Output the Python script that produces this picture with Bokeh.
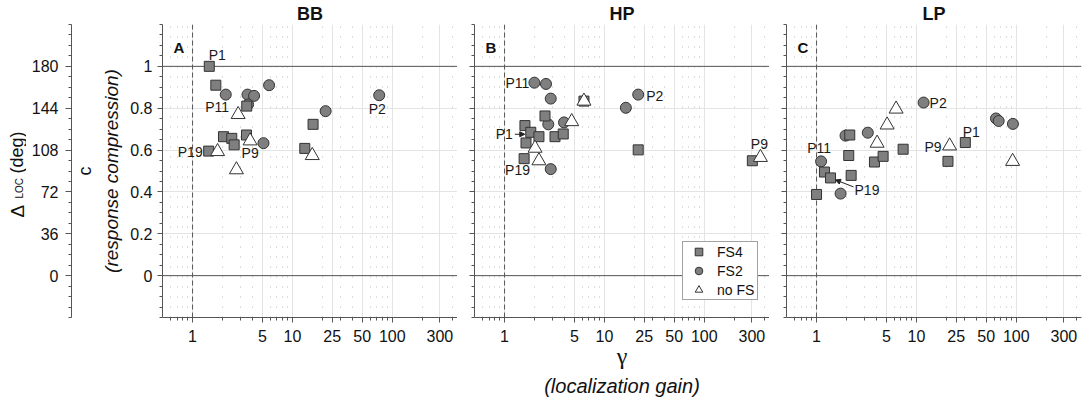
import math
from bokeh.plotting import figure
from bokeh.layouts import row
from bokeh.models import (ColumnDataSource, Range1d, LinearAxis, FixedTicker,
                          CustomJSTickFormatter, Span, Label, Legend, LegendItem,
                          Arrow, NormalHead, LogAxis)
from bokeh.core.properties import value
from bokeh.embed import file_html
from bokeh.resources import INLINE

# ---------------- data (gamma = localization gain, c = response compression) ----------------
panel_names = ["BB", "HP", "LP"]
panel_letters = ["A", "B", "C"]
legend_labels = ["FS4", "FS2", "no FS"]

bb_fs4_g = [1.47, 1.71, 3.49, 2.04, 2.47, 2.61, 3.47, 1.45, 13.3, 16.1]
bb_fs4_c = [1.00, 0.91, 0.81, 0.664, 0.656, 0.625, 0.672, 0.595, 0.608, 0.723]
bb_fs2_g = [2.15, 3.55, 4.13, 3.6, 5.84, 21.5, 5.13, 74.0]
bb_fs2_c = [0.865, 0.865, 0.859, 0.818, 0.91, 0.786, 0.633, 0.862]
bb_nofs_g = [2.86, 1.78, 3.77, 2.75, 15.8]
bb_nofs_c = [0.77, 0.593, 0.644, 0.506, 0.574]

hp_fs4_g = [2.54, 1.6, 1.83, 2.21, 3.2, 3.87, 1.64, 1.57, 21.8, 303.0, 6.24]
hp_fs4_c = [0.763, 0.717, 0.685, 0.664, 0.664, 0.677, 0.634, 0.559, 0.601, 0.549, 0.834]
hp_fs2_g = [1.99, 2.6, 2.9, 2.74, 3.94, 16.4, 21.8, 2.9]
hp_fs2_c = [0.922, 0.916, 0.846, 0.723, 0.732, 0.802, 0.865, 0.509]
hp_nofs_g = [6.24, 4.7, 2.02, 2.21, 365.0]
hp_nofs_c = [0.834, 0.736, 0.609, 0.549, 0.565]

lp_fs4_g = [2.15, 2.1, 3.8, 4.64, 7.36, 30.9, 20.7, 1.2, 1.38, 2.22, 1.0]
lp_fs4_c = [0.672, 0.574, 0.543, 0.57, 0.604, 0.636, 0.546, 0.495, 0.467, 0.479, 0.388]
lp_fs2_g = [11.8, 62.6, 66.6, 92.6, 1.95, 3.26, 1.11, 1.74]
lp_fs2_c = [0.827, 0.751, 0.739, 0.725, 0.669, 0.683, 0.546, 0.392]
lp_nofs_g = [6.26, 5.09, 4.04, 21.5, 91.9]
lp_nofs_c = [0.796, 0.72, 0.633, 0.62, 0.546]

# participant labels: text, series, index of the point they name
bb_lab_text = ["P1", "P11", "P19", "P9", "P2"]
bb_lab_series = ["fs4", "nofs", "fs4", "nofs", "fs2"]
bb_lab_index = [0, 0, 7, 2, 7]
hp_lab_text = ["P11", "P2", "P1", "P19", "P9"]
hp_lab_series = ["fs2", "fs2", "fs4", "nofs", "nofs"]
hp_lab_index = [0, 6, 2, 3, 4]
lp_lab_text = ["P2", "P1", "P9", "P11", "P19"]
lp_lab_series = ["fs2", "fs4", "nofs", "fs2", "fs4"]
lp_lab_index = [0, 5, 3, 6, 8]

# tick values
x_major_ticks = [1, 5, 10, 25, 50, 100, 300]
x_minor_ticks = [0.6, 0.7, 0.8, 0.9, 2, 3, 4, 6, 7, 8, 9, 20, 30, 40, 60, 70, 80, 90, 200, 400]
c_major_ticks = [0, 0.2, 0.4, 0.6, 0.8, 1.0]
c_minor_ticks = [round(-0.2 + 0.05 * i, 2) for i in range(29)]
deg_major_ticks = [0, 36, 72, 108, 144, 180]
deg_minor_ticks = [-36 + 9 * i for i in range(29)]

# ---------------- layout / style ----------------
X_RANGE = (0.5, 450)
Y_RANGE = (-0.2, 1.2)
DEG_RANGE = (-36, 216)
FRAME_W, FRAME_H = 295, 294
TOP, BOTTOM = 23, 83
H = TOP + FRAME_H + BOTTOM
LABEL_W = 26
PPD = FRAME_W / math.log10(X_RANGE[1] / X_RANGE[0])
PPU = FRAME_H / (Y_RANGE[1] - Y_RANGE[0])
SANS = "Liberation Sans"
DARK = "#555555"
TXT = "#111111"
MARK_FILL = "#7f7f7f"
MARK_LINE = "#333333"

# label offsets in pixels (dx right, dy down) and alignment, per panel
bb_lab_style = [(8, -11, "center"), (-9, -7, "right"), (-6, 1, "right"), (0, 12, "center"), (-2, 14, "center")]
hp_lab_style = [(-5, 0, "right"), (8, 1, "left"), (-18, 2, "right"), (-9, 9, "right"), (-1, -13, "center")]
lp_lab_style = [(6, 0, "left"), (6, -11, "center"), (-8, 1, "right"), (-2, -13, "center"), (24, 12, "left")]
hp_arrows = [("fs4", 2, -16, 2, -6, 2)]
lp_arrows = [("fs4", 8, 23, 9, 5, 2)]


def style_axis(ax, labels=True, standoff=5):
    ax.axis_line_color = DARK
    ax.major_tick_line_color = DARK
    ax.minor_tick_line_color = DARK
    ax.major_tick_in = 0
    ax.major_tick_out = 5
    ax.minor_tick_in = 0
    ax.minor_tick_out = 3
    ax.major_label_text_font = SANS
    ax.major_label_text_font_size = "16px"
    ax.major_label_text_color = TXT
    ax.major_label_standoff = standoff
    if not labels:
        ax.formatter = CustomJSTickFormatter(code="return '';")
        ax.major_label_standoff = 0


def label_axis(cls, text, size, style, standoff, **kw):
    ax = cls(ticker=FixedTicker(ticks=[]), axis_line_color=None, major_tick_out=0,
             minor_tick_out=0, major_tick_in=0, minor_tick_in=0, major_label_standoff=0,
             axis_label=text, axis_label_standoff=standoff, axis_label_text_font=SANS,
             axis_label_text_font_size=size, axis_label_text_font_style=style,
             axis_label_text_color=TXT, **kw)
    return ax


def shift(g, c, dx, dy):
    return g * 10 ** (dx / PPD), c - dy / PPU


def make_panel(i, series, lab_text, lab_series, lab_index, lab_style, arrows, left, right):
    p = figure(width=left + FRAME_W + right, height=H, x_axis_type="log",
               x_range=Range1d(*X_RANGE), y_range=Range1d(*Y_RANGE),
               output_backend="svg", toolbar_location=None,
               min_border_left=left, min_border_right=right,
               min_border_top=TOP, min_border_bottom=BOTTOM)
    p.outline_line_color = None
    p.background_fill_color = "white"
    p.border_fill_color = "white"
    p.title.text = panel_names[i]
    p.title.align = "center"
    p.title.text_font = SANS
    p.title.text_font_style = "bold"
    p.title.text_font_size = "18px"
    p.title.text_color = TXT
    p.title.standoff = 2

    xa = p.xaxis[0]
    xa.ticker = FixedTicker(ticks=x_major_ticks, minor_ticks=x_minor_ticks)
    xa.formatter = CustomJSTickFormatter(code="return tick.toString();")
    style_axis(xa, standoff=7)
    ya = p.yaxis[0]
    ya.ticker = FixedTicker(ticks=c_major_ticks, minor_ticks=c_minor_ticks)
    ya.formatter = CustomJSTickFormatter(code="return (Math.round(tick*10)/10).toString();")
    style_axis(ya, labels=(i == 0))

    p.xgrid.grid_line_color = "#e4e4e4"
    p.ygrid.grid_line_color = "#e4e4e4"
    p.xgrid.minor_grid_line_color = "#bdbdbd"
    p.xgrid.minor_grid_line_dash = "1 9"

    for loc in (0, 1):
        p.add_layout(Span(location=loc, dimension="width", line_color=DARK,
                          line_width=1, level="underlay"))
    p.add_layout(Span(location=1, dimension="height", line_color=DARK, line_width=1,
                      line_dash="5 3", level="underlay"))

    r_ci = p.scatter(series["fs2"][0], series["fs2"][1], marker="circle", size=11,
                     fill_color=MARK_FILL, line_color=MARK_LINE, line_width=1)
    r_sq = p.scatter(series["fs4"][0], series["fs4"][1], marker="square", size=10,
                     fill_color=MARK_FILL, line_color=MARK_LINE, line_width=1)
    r_tr = p.scatter(series["nofs"][0], series["nofs"][1], marker="triangle", size=14,
                     fill_color="white", line_color=MARK_LINE, line_width=1)

    for align in ("left", "center", "right"):
        sel = [k for k in range(len(lab_text)) if lab_style[k][2] == align]
        if not sel:
            continue
        src = ColumnDataSource(dict(
            x=[series[lab_series[k]][0][lab_index[k]] for k in sel],
            y=[series[lab_series[k]][1][lab_index[k]] for k in sel],
            t=[lab_text[k] for k in sel],
            dx=[lab_style[k][0] for k in sel],
            dy=[lab_style[k][1] for k in sel]))
        p.text(x="x", y="y", text="t", x_offset="dx", y_offset="dy", source=src,
               text_align=align, text_baseline="middle", text_font=value(SANS),
               text_font_size="14px", text_color="#1a1a1a")

    for (s, k, dx0, dy0, dx1, dy1) in arrows:
        g, c = series[s][0][k], series[s][1][k]
        x0, y0 = shift(g, c, dx0, dy0)
        x1, y1 = shift(g, c, dx1, dy1)
        p.add_layout(Arrow(x_start=x0, y_start=y0, x_end=x1, y_end=y1,
                           line_color="#222222", line_width=1,
                           end=NormalHead(size=5, fill_color="#222222", line_color="#222222")))

    p.add_layout(Label(x=11, y=FRAME_H - 24, x_units="screen", y_units="screen",
                       text=panel_letters[i], text_align="left", text_baseline="alphabetic",
                       text_font=SANS, text_font_style="bold", text_font_size="15px",
                       text_color=TXT))
    return p, (r_sq, r_ci, r_tr)


bb = {"fs4": (bb_fs4_g, bb_fs4_c), "fs2": (bb_fs2_g, bb_fs2_c), "nofs": (bb_nofs_g, bb_nofs_c)}
hp = {"fs4": (hp_fs4_g, hp_fs4_c), "fs2": (hp_fs2_g, hp_fs2_c), "nofs": (hp_nofs_g, hp_nofs_c)}
lp = {"fs4": (lp_fs4_g, lp_fs4_c), "fs2": (lp_fs2_g, lp_fs2_c), "nofs": (lp_nofs_g, lp_nofs_c)}

p1, _ = make_panel(0, bb, bb_lab_text, bb_lab_series, bb_lab_index, bb_lab_style, [], 162 - LABEL_W, 0)
p2, rs = make_panel(1, hp, hp_lab_text, hp_lab_series, hp_lab_index, hp_lab_style, hp_arrows, 17, 0)
p3, _ = make_panel(2, lp, lp_lab_text, lp_lab_series, lp_lab_index, lp_lab_style, lp_arrows, 17, 2)

# ---- left side of panel A: c axis label, "c", outer Delta_LOC axis ----
ya1 = p1.yaxis[0]
ya1.axis_label = "(response compression)"
ya1.axis_label_text_font = SANS
ya1.axis_label_text_font_size = "19px"
ya1.axis_label_text_font_style = "italic"
ya1.axis_label_text_color = TXT
ya1.axis_label_standoff = 5

p1.add_layout(label_axis(LinearAxis, "c", "18px", "normal", 4), "left")

p1.extra_y_ranges = {"deg": Range1d(*DEG_RANGE)}
deg_axis = LinearAxis(y_range_name="deg",
                      ticker=FixedTicker(ticks=deg_major_ticks, minor_ticks=deg_minor_ticks))
style_axis(deg_axis, standoff=7)
deg_axis.major_tick_out = 6
p1.add_layout(deg_axis, "left")

# ---- x axis title under the middle panel ----
xa2 = p2.xaxis[0]
xa2.axis_label = "\u03b3"
xa2.axis_label_text_font = "Liberation Serif"
xa2.axis_label_text_font_size = "24px"
xa2.axis_label_text_font_style = "normal"
xa2.axis_label_text_color = TXT
xa2.axis_label_standoff = -2
p2.add_layout(label_axis(LogAxis, "(localization gain)", "20px", "italic", 3), "below")

# ---- legend ----
legend = Legend(items=[LegendItem(label=legend_labels[0], renderers=[rs[0]]),
                       LegendItem(label=legend_labels[1], renderers=[rs[1]]),
                       LegendItem(label=legend_labels[2], renderers=[rs[2]])],
                location=(208, 17), orientation="vertical", margin=0, padding=0,
                glyph_width=31, glyph_height=19, label_height=19, label_width=40,
                label_standoff=3, spacing=0, border_line_color="#444444", border_line_width=1,
                background_fill_color="white", background_fill_alpha=1.0,
                label_text_font=SANS, label_text_font_size="14px", label_text_color=TXT)
p2.add_layout(legend)

# ---- narrow strip on the far left holding the Delta_LOC (deg) title ----
pl = figure(width=LABEL_W, height=H, x_range=Range1d(0, 1), y_range=Range1d(0, 1),
            x_axis_location=None, y_axis_location=None, output_backend="svg",
            toolbar_location=None, min_border_left=0, min_border_right=0,
            min_border_top=TOP, min_border_bottom=BOTTOM)
pl.outline_line_color = None
pl.grid.visible = False
lk = dict(x_units="screen", y_units="screen", text_font=SANS, text_color=TXT,
          angle=math.pi / 2, text_align="left", text_baseline="alphabetic")
pl.add_layout(Label(x=16.5, y=100, text="\u0394", text_font_size="19px", **lk))
pl.add_layout(Label(x=19, y=119, text="LOC", text_font_size="10px", **lk))
pl.add_layout(Label(x=16.5, y=144, text="(deg)", text_font_size="18px", **lk))

layout = row(pl, p1, p2, p3)
open("out.html", "w").write(file_html(layout, INLINE))
